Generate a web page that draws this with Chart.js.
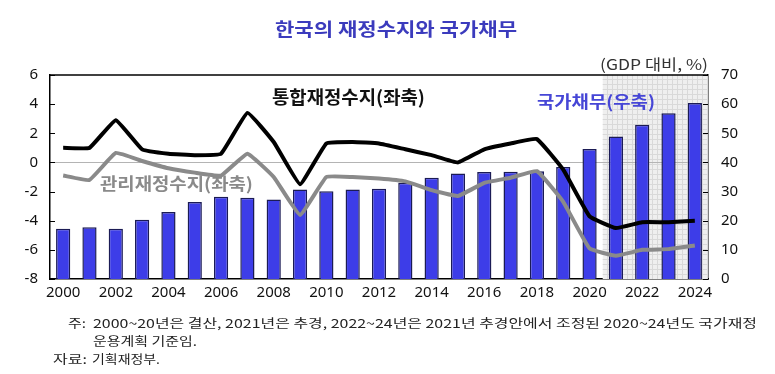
<!DOCTYPE html>
<html>
<head>
<meta charset="utf-8">
<script src="https://cdn.jsdelivr.net/npm/chart.js@4/dist/chart.umd.min.js"></script>
<style>
html,body{margin:0;padding:0;background:#fff;}
#wrap{width:775px;height:374px;position:relative;}
</style>
</head>
<body>
<div id="wrap"><canvas id="c" width="775" height="374"></canvas></div>
<script>
// ---- data ----
const years = ['2000','2001','2002','2003','2004','2005','2006','2007','2008','2009','2010','2011','2012',
  '2013','2014','2015','2016','2017','2018','2019','2020','2021','2022','2023','2024'];
// 국가채무 (우축, GDP 대비 %)
const nationalDebt = [17.2,17.8,17.2,20.3,23.0,26.4,28.2,27.9,27.3,30.7,30.1,30.7,31.0,
  33.0,34.7,36.2,36.7,36.8,37.0,38.4,44.6,48.9,52.9,56.9,60.4];
// 통합재정수지 (좌축)
const consolidatedBalance = [1.0,1.0,2.9,0.9,0.6,0.5,0.6,3.4,1.4,-1.5,1.3,1.4,1.3,
  0.9,0.5,0.0,0.9,1.3,1.6,-0.5,-3.7,-4.5,-4.1,-4.1,-4.0];
// 관리재정수지 (좌축)
const managedBalance = [-0.9,-1.2,0.65,0.1,-0.4,-0.7,-0.9,0.6,-1.0,-3.6,-1.0,-1.0,-1.1,
  -1.3,-1.9,-2.3,-1.4,-1.05,-0.6,-2.7,-5.9,-6.4,-6.0,-5.95,-5.7];
const leftTicks = [-8,-6,-4,-2,0,2,4,6];
const rightTicks = [0,10,20,30,40,50,60,70];
const projectionStartIndex = 21; // 2021~ 음영

const KR = '"Noto Sans CJK KR", "Noto Sans", sans-serif';

function fitText(ctx, text, x, y, w, font, color) {
  ctx.save();
  ctx.font = font;
  ctx.fillStyle = color;
  ctx.textBaseline = 'middle';
  ctx.textAlign = 'left';
  const m = ctx.measureText(text).width;
  ctx.translate(x, y);
  ctx.scale(w / m, 1);
  ctx.fillText(text, 0, 0);
  ctx.restore();
}

const decor = {
  id: 'decor',
  beforeDatasetsDraw(chart) {
    const ctx = chart.ctx, a = chart.chartArea;
    const xs = chart.scales.x, yl = chart.scales.y;
    const x0 = (xs.getPixelForValue(projectionStartIndex - 1) + xs.getPixelForValue(projectionStartIndex)) / 2;
    ctx.save();
    ctx.fillStyle = '#efefef';
    ctx.fillRect(x0, a.top, a.right - x0, a.bottom - a.top);
    ctx.strokeStyle = '#d9d9d9';
    ctx.lineWidth = 1;
    ctx.beginPath();
    for (let x = x0 + 4; x < a.right; x += 5) { ctx.moveTo(Math.round(x) + 0.5, a.top); ctx.lineTo(Math.round(x) + 0.5, a.bottom); }
    for (let y = a.top + 4; y < a.bottom; y += 5) { ctx.moveTo(x0, Math.round(y) + 0.5); ctx.lineTo(a.right, Math.round(y) + 0.5); }
    ctx.stroke();
    const y0 = Math.round(yl.getPixelForValue(0)) + 0.5;
    ctx.strokeStyle = '#b4b4b4';
    ctx.lineWidth = 1;
    ctx.beginPath(); ctx.moveTo(a.left, y0); ctx.lineTo(a.right, y0); ctx.stroke();
    ctx.restore();
  },
  afterDraw(chart) {
    const ctx = chart.ctx, a = chart.chartArea;
    const yl = chart.scales.y, yr = chart.scales.y1;
    ctx.save();
    ctx.strokeStyle = '#000';
    ctx.lineWidth = 1.5;
    ctx.beginPath(); ctx.moveTo(a.left, a.top); ctx.lineTo(a.right, a.top); ctx.stroke();
    ctx.lineWidth = 1;
    ctx.beginPath();
    leftTicks.forEach(v => { const y = Math.round(yl.getPixelForValue(v)) + 0.5; ctx.moveTo(a.left, y); ctx.lineTo(a.left + 5, y); });
    rightTicks.forEach(v => { const y = Math.round(yr.getPixelForValue(v)) + 0.5; ctx.moveTo(a.right, y); ctx.lineTo(a.right - 5, y); });
    ctx.stroke();
    ctx.restore();

    fitText(ctx, '한국의 재정수지와 국가채무', 275, 29, 242, 'bold 18px ' + KR, '#3b3bbd');
    fitText(ctx, '통합재정수지(좌축)', 272, 97, 153, 'bold 18px ' + KR, '#111');
    fitText(ctx, '관리재정수지(좌축)', 100, 184, 153, 'bold 17px ' + KR, '#8a8a8a');
    fitText(ctx, '국가채무(우축)', 537, 102, 118, 'bold 17px ' + KR, '#4646d6');
    fitText(ctx, '(GDP 대비, %)', 600, 64, 108, '15px ' + KR, '#333');

    fitText(ctx, '주:', 68, 323, 18, '12px ' + KR, '#222');
    fitText(ctx, '2000~20년은 결산, 2021년은 추경, 2022~24년은 2021년 추경안에서 조정된 2020~24년도 국가재정', 93, 323, 664, '12px ' + KR, '#222');
    fitText(ctx, '운용계획 기준임.', 93, 341, 104, '12px ' + KR, '#222');
    fitText(ctx, '자료:', 53, 359, 34, '12px ' + KR, '#222');
    fitText(ctx, '기획재정부.', 92, 359, 68, '12px ' + KR, '#222');
  }
};

const tickFont = { family: '"Noto Sans", sans-serif', size: 15 };

new Chart(document.getElementById('c'), {
  type: 'bar',
  data: {
    labels: years,
    datasets: [
      { type: 'line', label: '통합재정수지(좌축)', data: consolidatedBalance, yAxisID: 'y',
        borderColor: '#000', borderWidth: 4, pointRadius: 0, tension: 0.1, borderJoinStyle: 'round', order: 1 },
      { type: 'line', label: '관리재정수지(좌축)', data: managedBalance, yAxisID: 'y',
        borderColor: '#8a8a8a', borderWidth: 4, pointRadius: 0, tension: 0.1, borderJoinStyle: 'round', order: 2 },
      { type: 'bar', label: '국가채무(우축)', data: nationalDebt, yAxisID: 'y1',
        backgroundColor: '#3d3de8', borderColor: '#1b1b55', borderWidth: 1.5,
        categoryPercentage: 1, barPercentage: 0.54, order: 3 }
    ]
  },
  options: {
    responsive: false,
    animation: false,
    layout: { padding: { top: 75, left: 0, right: 0, bottom: 0 } },
    plugins: { legend: { display: false }, title: { display: false }, tooltip: { enabled: false } },
    scales: {
      x: {
        grid: { display: false, drawTicks: false },
        border: { display: true, color: '#000', width: 1.5 },
        ticks: { autoSkip: false, maxRotation: 0, padding: 5, color: '#111', font: tickFont,
          callback: function(v, i) { return i % 2 === 0 ? years[i] : ''; } },
        afterFit: s => { s.height = 95; }
      },
      y: {
        position: 'left', min: -8, max: 6,
        grid: { display: false, drawTicks: false },
        border: { display: true, color: '#000', width: 1.5 },
        ticks: { stepSize: 2, padding: 12, color: '#111', font: tickFont },
        afterBuildTicks: s => { s.ticks = leftTicks.map(v => ({ value: v })); },
        afterFit: s => { s.width = 50; }
      },
      y1: {
        position: 'right', min: 0, max: 70,
        grid: { display: false, drawTicks: false },
        border: { display: true, color: '#000', width: 1.5 },
        ticks: { stepSize: 10, padding: 13, color: '#111', font: tickFont },
        afterBuildTicks: s => { s.ticks = rightTicks.map(v => ({ value: v })); },
        afterFit: s => { s.width = 67; }
      }
    }
  },
  plugins: [decor]
});
</script>
</body>
</html>
